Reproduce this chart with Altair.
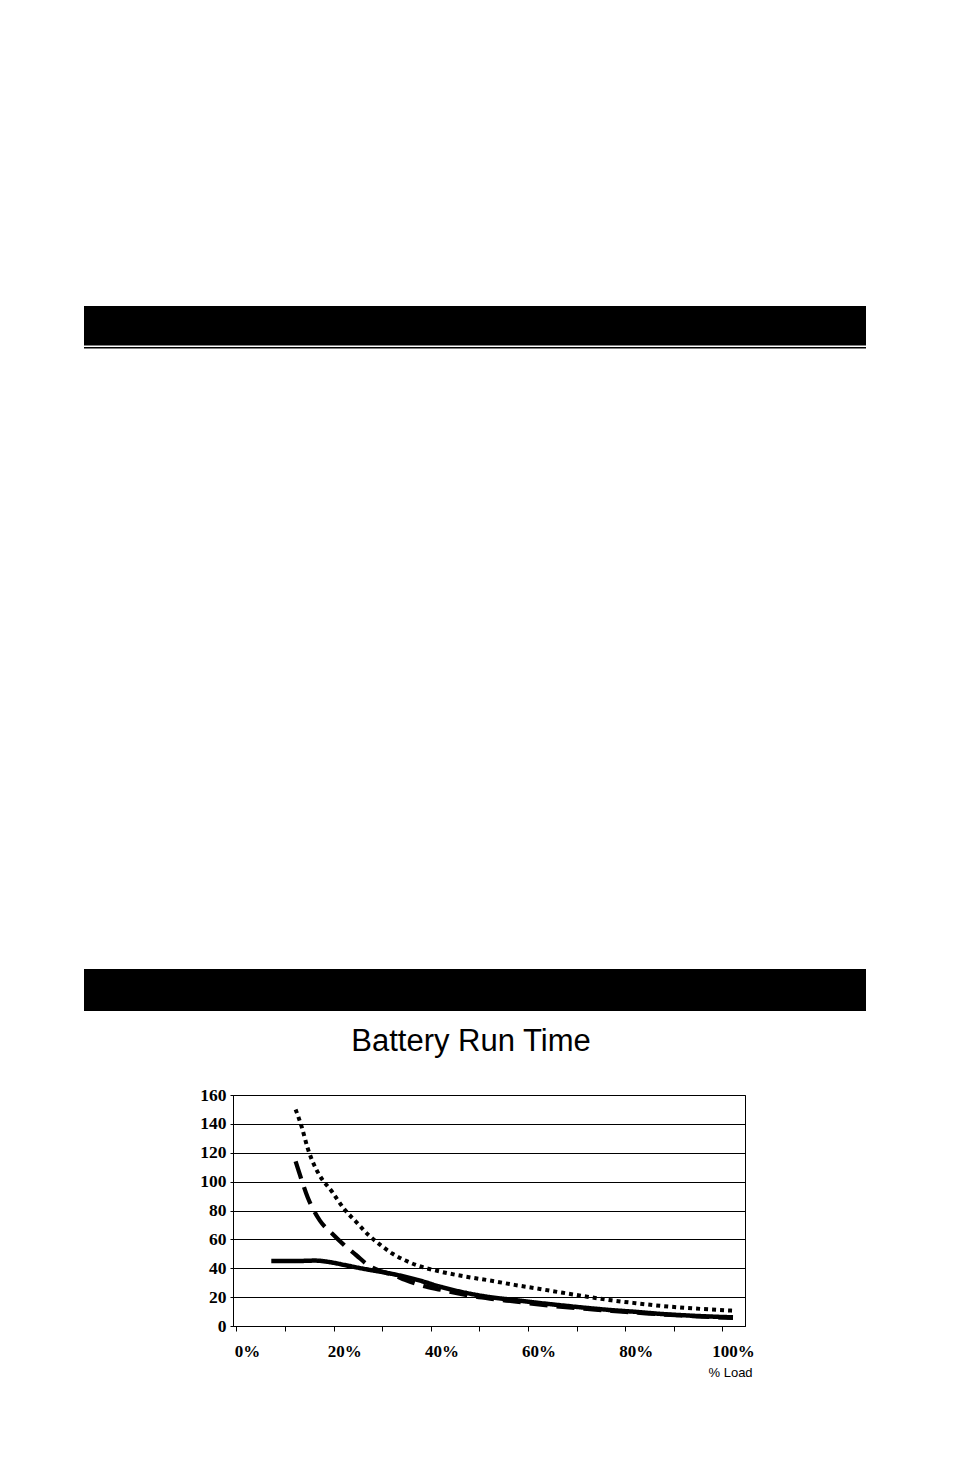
import altair as alt
import pandas as pd

# ---- data ----
series_names = ["Series 1", "Series 2", "Series 3"]

load_solid = [5, 10, 14, 17.5, 20, 22.5, 25, 30, 35, 40, 45, 50, 55, 60, 65, 70, 75, 80, 85, 90, 95, 100]
run_solid = [45, 45, 45.3, 44, 42.3, 40.6, 39, 36, 32, 27, 23, 20, 18, 16, 14.2, 12.5, 11, 9.8, 8.4, 7.4, 6.6, 6]

load_dash = [10, 11.25, 12.5, 13.75, 15, 17.5, 20, 22.5, 25, 27.5, 30, 32.5, 35, 40, 45, 50, 55, 60, 65, 70, 75, 80, 85, 90, 95, 100]
run_dash = [114, 101, 89, 80, 73, 64, 56, 49, 42, 38, 35.5, 32, 29, 25, 21.5, 19, 17, 15, 13.2, 11.8, 10.4, 9.3, 8.1, 7.2, 6.3, 5.7]

load_dot = [10, 11.25, 12.5, 13.75, 15, 17.5, 20, 22.5, 25, 27.5, 30, 32.5, 35, 37.5, 40, 45, 50, 55, 60, 65, 70, 75, 80, 85, 90, 95, 100]
run_dot = [150, 138, 123, 112, 104, 93, 81, 72, 63, 56, 50, 45.5, 42, 39.5, 37.5, 34.2, 31.5, 28.5, 25.8, 23, 20.3, 17.8, 15.8, 14, 12.6, 11.5, 10.6]

x_ticks = [0, 10, 20, 30, 40, 50, 60, 70, 80, 90, 100]
y_ticks = [0, 20, 40, 60, 80, 100, 120, 140, 160]

title_text = "Battery Run Time"
x_title = "% Load"

rows = []
for name, xs, ys in zip(series_names, [load_solid, load_dash, load_dot], [run_solid, run_dash, run_dot]):
    for xv, yv in zip(xs, ys):
        rows.append({"series": name, "load": xv, "runtime": yv})
df = pd.DataFrame(rows)

SERIF = "Liberation Serif"
SANS = "Liberation Sans"

x_enc = alt.X(
    "load:Q",
    scale=alt.Scale(domain=[-2.88, 102.47], nice=False, zero=False),
    axis=alt.Axis(
        values=x_ticks,
        title=x_title,
        labelExpr="datum.value % 20 === 0 ? datum.value + '%' : ''",
        tickOffset=-10.5,
        labelOffset=10.5,
        grid=False,
        domainColor="black",
        tickColor="black",
        tickSize=5,
        labelPadding=12,
        labelFont=SERIF,
        labelFontSize=17,
        labelFontWeight="bold",
        labelColor="black",
        labelFlush=False,
        labelOverlap=False,
        titleFont=SANS,
        titleFontSize=13,
        titleFontWeight="normal",
        titleColor="black",
        titleX=475,
        titleY=50,
        titleAlign="left",
        titleBaseline="alphabetic",
    ),
)

y_enc = alt.Y(
    "runtime:Q",
    scale=alt.Scale(domain=[0, 160], nice=False),
    axis=alt.Axis(
        values=y_ticks,
        title=None,
        grid=True,
        gridColor="black",
        gridWidth=1,
        gridOpacity=1,
        domainColor="black",
        tickColor="black",
        tickSize=3,
        labelPadding=4,
        labelFont=SERIF,
        labelFontSize=17.5,
        labelFontWeight="bold",
        labelColor="black",
    ),
)

chart = (
    alt.Chart(df)
    .mark_line(color="black", interpolate="monotone", strokeCap="butt")
    .encode(
        x=x_enc,
        y=y_enc,
        strokeDash=alt.StrokeDash(
            "series:N",
            scale=alt.Scale(domain=series_names, range=[[1, 0], [18, 9], [4, 4]]),
            legend=None,
        ),
        strokeWidth=alt.StrokeWidth(
            "series:N",
            scale=alt.Scale(domain=series_names, range=[4.5, 4, 4]),
            legend=None,
        ),
    )
    .properties(
        width=512,
        height=231,
        title=alt.TitleParams(
            title_text,
            font=SANS,
            fontSize=31,
            fontWeight="normal",
            color="black",
            anchor="middle",
            frame="group",
            dx=-18,
            offset=28,
        ),
        view=alt.ViewBackground(stroke="black", strokeWidth=1),
    )
)

dummy = pd.DataFrame({"k": [0]})


def block(w, h, fill):
    return (
        alt.Chart(dummy)
        .mark_point(opacity=0)
        .properties(width=w, height=h, view=alt.ViewBackground(fill=fill, strokeWidth=0))
    )


bottom_row = alt.hconcat(block(149, 231, "transparent"), chart, spacing=0, bounds="flush")

page = (
    alt.vconcat(
        block(782, 39.5, "black"),
        block(782, 1, "transparent"),
        block(782, 1.5, "black"),
        block(782, 620, "transparent"),
        block(782, 42, "black"),
        block(782, 84, "transparent"),
        bottom_row,
        spacing=0,
        bounds="flush",
    )
    .properties(padding={"left": 76, "top": 298, "right": 10, "bottom": 10})
    .configure(background="white")
    .configure_view(stroke="transparent")
)

page.save("out.html", embed_options={"renderer": "svg", "actions": False})
